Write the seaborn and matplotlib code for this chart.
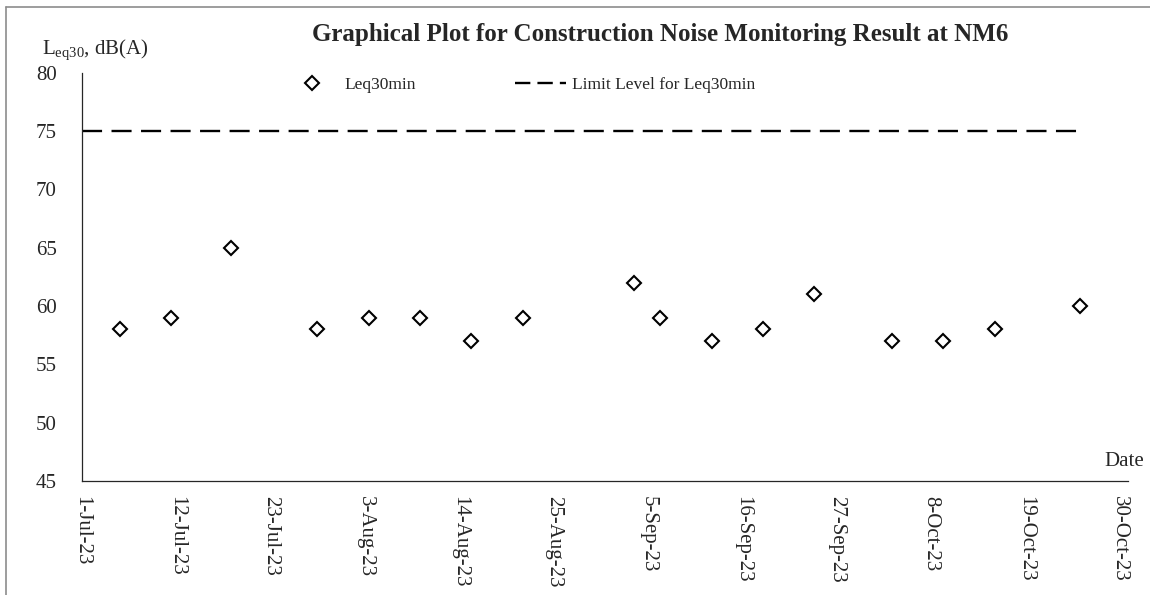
import matplotlib
matplotlib.use("Agg")
import matplotlib.pyplot as plt
from matplotlib.lines import Line2D
import pandas as pd
import seaborn as sns

# monitoring dates (readings taken mid-morning) and measured Leq30min, dB(A)
dates = ["2023-07-05 10:00", "2023-07-11 10:00", "2023-07-18 10:00", "2023-07-28 10:00",
         "2023-08-03 10:00", "2023-08-09 10:00", "2023-08-15 10:00", "2023-08-21 10:00",
         "2023-09-03 10:00", "2023-09-06 10:00", "2023-09-12 10:00", "2023-09-18 10:00",
         "2023-09-24 10:00", "2023-10-03 10:00", "2023-10-09 10:00", "2023-10-15 10:00",
         "2023-10-25 10:00"]
leq = [58, 59, 65, 58, 59, 59, 57, 59, 62, 59, 57, 58, 61, 57, 57, 58, 60]

limit_dates = ["2023-07-01 00:00", "2023-10-25 10:00"]
limit_level = [75, 75]

tick_labels = ["1-Jul-23", "12-Jul-23", "23-Jul-23", "3-Aug-23", "14-Aug-23", "25-Aug-23",
               "5-Sep-23", "16-Sep-23", "27-Sep-23", "8-Oct-23", "19-Oct-23", "30-Oct-23"]
y_ticks = [45, 50, 55, 60, 65, 70, 75, 80]

sns.set_style("white")
plt.rcParams['font.family'] = ['Liberation Serif', 'DejaVu Serif']
plt.rcParams['mathtext.default'] = 'regular'

df = pd.DataFrame({"date": pd.to_datetime(dates, format="%Y-%m-%d %H:%M"), "leq": leq})
lim = pd.DataFrame({"date": pd.to_datetime(limit_dates, format="%Y-%m-%d %H:%M"),
                    "level": limit_level})
tick_pos = pd.to_datetime(tick_labels, format="%d-%b-%y")

fig = plt.figure(figsize=(11.5, 5.95), dpi=100)
ax = fig.add_axes([0.0713, 0.1916, 0.9097, 0.6864])

sns.lineplot(data=df, x="date", y="leq", ax=ax, marker="D", linestyle="", color="black",
             markerfacecolor="white", markeredgecolor="black", markeredgewidth=1.5,
             markersize=7, label="Leq30min")
sns.lineplot(data=lim, x="date", y="level", ax=ax, color="black", linewidth=1.7,
             linestyle=(0, (8.5, 4)), label="Limit Level for Leq30min")

ax.set_xlim(pd.Timestamp("2023-07-01"), pd.Timestamp("2023-10-31"))
ax.set_ylim(45, 80)
ax.set_xticks(tick_pos, labels=tick_labels, rotation=-90, fontsize=15)
ax.set_yticks(y_ticks, labels=[str(v) for v in y_ticks], fontsize=15)
ax.tick_params(axis="both", direction="in", length=4, width=0.8, color="#262626")
ax.tick_params(axis="y", pad=18)
ax.tick_params(axis="x", pad=11)
ax.set_xlabel("")
ax.set_ylabel("")
sns.despine(ax=ax)
for s in ["left", "bottom"]:
    ax.spines[s].set_color("#262626")
    ax.spines[s].set_linewidth(0.9)

fs = 12.5
leg = ax.legend(loc="center left", bbox_to_anchor=(287 / 1150, 1 - 85 / 595),
                bbox_transform=fig.transFigure, ncol=2, frameon=False, fontsize=fs,
                handlelength=51 / (fs * 1.389), handletextpad=6 / (fs * 1.389),
                columnspacing=100 / (fs * 1.389), borderpad=0, borderaxespad=0)
leg.get_lines()[1].set_linestyle((0, (6.5, 3)))

fig.text(0.574, 1 - 35 / 595, "Graphical Plot for Construction Noise Monitoring Result at NM6",
         ha="center", va="center", fontsize=18, fontweight="bold")
fig.text(42 / 1150, 1 - 50 / 595, r"L$_{eq30}$, dB(A)", ha="left", va="center", fontsize=15)
fig.text(1104 / 1150, 1 - 462 / 595, "Date", ha="left", va="center", fontsize=15)

# outer chart frame (left and top edges visible)
fig.add_artist(Line2D([6 / 1150, 6 / 1150], [0, 1 - 7 / 595], transform=fig.transFigure,
                      color="#8c8c8c", linewidth=1.2))
fig.add_artist(Line2D([6 / 1150, 1], [1 - 7 / 595, 1 - 7 / 595], transform=fig.transFigure,
                      color="#8c8c8c", linewidth=1.2))

fig.savefig("out.png", dpi=100)
